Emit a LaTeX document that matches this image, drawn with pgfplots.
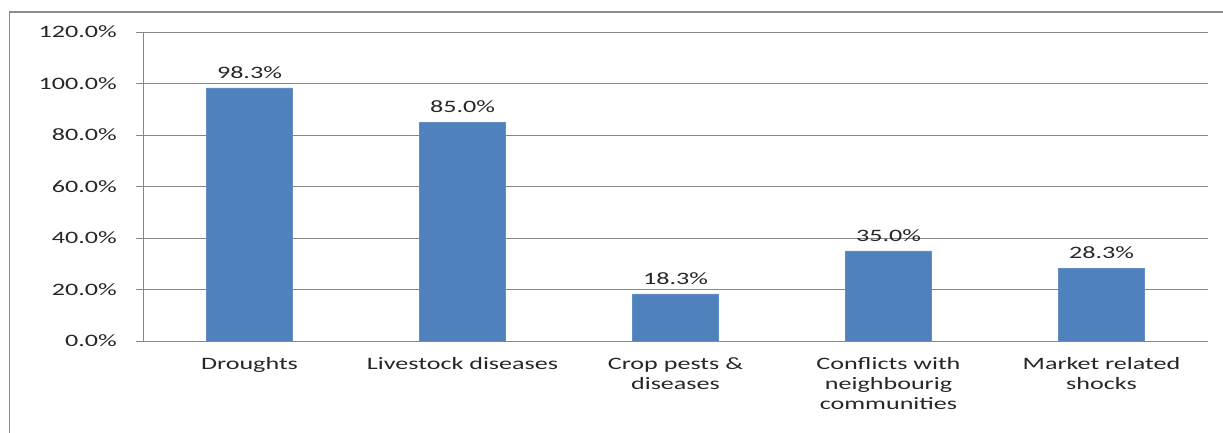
\documentclass[border=0pt]{standalone}
\usepackage{fontspec}
\setmainfont{Carlito}[FakeStretch=1.5]
\usepackage{pgfplots}
\pgfplotsset{compat=1.18}
\definecolor{barblue}{HTML}{4F81BD}
\definecolor{gridgray}{HTML}{878787}
\definecolor{framegray}{HTML}{8C8C8C}
\begin{document}
\begin{tikzpicture}[font=\fontsize{17.4}{20}\selectfont, text=black!85]
\useasboundingbox (0,0) rectangle (1223pt,433pt);
% outer chart frame
\draw[framegray, line width=1.5pt] (9.5pt,0pt) -- (9.5pt,421pt) -- (1223pt,421pt);
\begin{axis}[
  at={(143pt,92pt)}, anchor=south west,
  scale only axis, width=1065pt, height=309pt,
  ybar, bar width=86pt,
  xmin=-0.5, xmax=4.5, ymin=0, ymax=120,
  axis x line*=bottom, axis y line*=left,
  axis line style={gridgray, line width=0.8pt},
  xtick={0,1,2,3,4},
  xticklabels={Droughts, Livestock diseases, Crop pests \&\\diseases, Conflicts with\\neighbourig\\communities, Market related\\shocks},
  xtick style={draw=none},
  minor xtick={-0.5,0.5,1.5,2.5,3.5,4.5},
  minor tick length=5pt,
  minor tick style={gridgray, line width=0.8pt},
  xticklabel style={align=center, anchor=north, yshift=-6pt},
  ytick={0,20,...,120},
  ytick style={gridgray, line width=0.8pt},
  major tick length=7pt,
  tick align=outside,
  ymajorgrids,
  grid style={gridgray, line width=0.8pt},
  /pgf/number format/assume math mode=true,
  yticklabel={\pgfmathprintnumber[fixed,fixed zerofill,precision=1]{\tick}\%},
  yticklabel style={anchor=east, inner sep=0pt, xshift=-19pt},
  nodes near coords={\pgfmathprintnumber[fixed,fixed zerofill,precision=1]{\pgfplotspointmeta}\%},
  nodes near coords style={anchor=south, yshift=6pt},
]
\addplot[fill=barblue, draw=barblue!90!white] coordinates {
  (0,98.3) (1,85.0) (2,18.3) (3,35.0) (4,28.3)
};
\end{axis}
\end{tikzpicture}
\end{document}
